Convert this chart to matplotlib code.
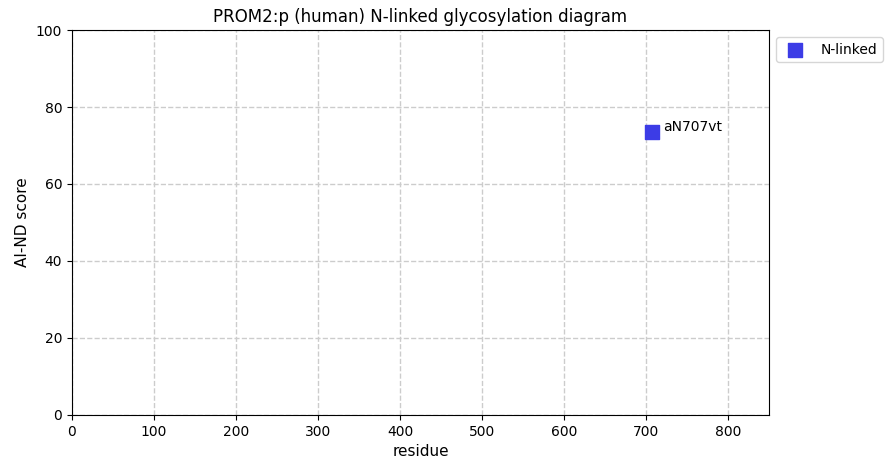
import matplotlib
matplotlib.use('Agg')
import matplotlib.pyplot as plt

residues = [707]
scores = [73.5]
labels = ['aN707vt']

fig = plt.figure(figsize=(8.93, 4.74), dpi=100)
ax = fig.add_axes([0.0806, 0.1245, 0.7805, 0.8122])
ax.scatter(residues, scores, marker='s', s=110, color='#3c3ce6', label='N-linked', zorder=3)
for x, y, t in zip(residues, scores, labels):
    ax.annotate(t, (x, y), xytext=(8, 1), textcoords='offset points', fontsize=10)
ax.set_xlim(0, 850)
ax.set_ylim(0, 100)
ax.grid(True, linestyle='--', color='#cccccc', linewidth=1)
ax.set_axisbelow(True)
ax.set_xlabel('residue', fontsize=11)
ax.set_ylabel('AI-ND score', fontsize=11)
ax.set_title('PROM2:p (human) N-linked glycosylation diagram', fontsize=12)
ax.legend(loc='upper left', bbox_to_anchor=(1.0, 1.0), markerscale=0.9)
fig.savefig('out.png', dpi=100)
